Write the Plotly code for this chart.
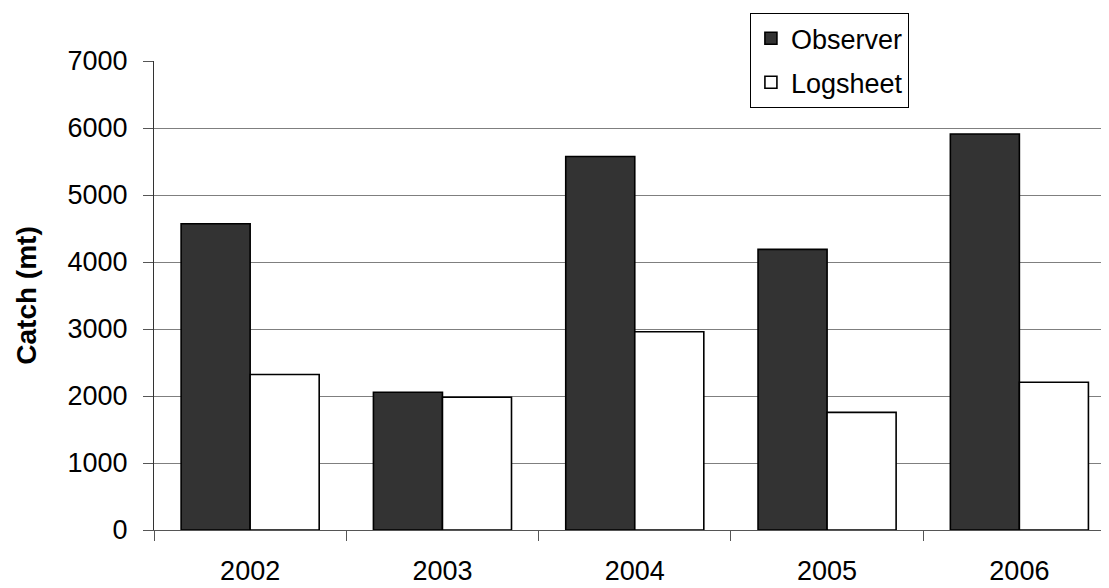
import plotly.graph_objects as go

years = ["2002", "2003", "2004", "2005", "2006"]
observer = [4570, 2057, 5575, 4188, 5910]
logsheet = [2320, 1982, 2960, 1755, 2205]
y_ticks = [0, 1000, 2000, 3000, 4000, 5000, 6000, 7000]

FONT = "Liberation Sans, Arial, sans-serif"

fig = go.Figure()
fig.add_trace(go.Bar(
    x=years, y=observer, name="Observer", legendgroup="a",
    marker=dict(color="#333333", line=dict(color="#000000", width=1.6)),
))
fig.add_trace(go.Bar(
    x=years, y=logsheet, name="Logsheet", legendgroup="b",
    marker=dict(color="#ffffff", line=dict(color="#000000", width=1.6)),
))

# page body has an 8px margin, so the figure is 8px smaller and offset
fig.update_layout(
    width=1101, height=580,
    margin=dict(l=146, r=0, t=53, b=58),
    paper_bgcolor="white", plot_bgcolor="white",
    barmode="group", bargap=0.282, bargroupgap=0,
    font=dict(family=FONT, size=27, color="#000000"),
    legend=dict(
        x=0.624, y=1.102, xanchor="left", yanchor="top",
        bgcolor="white", bordercolor="#000000", borderwidth=1,
        font=dict(family=FONT, size=27),
        traceorder="grouped", tracegroupgap=6,
    ),
    showlegend=True,
)
fig.update_xaxes(
    type="category", range=[-0.5, 4.466], automargin=False,
    showline=True, linecolor="#555555", linewidth=1,
    ticks="outside", tickson="boundaries", ticklen=10, tickcolor="#555555",
    showgrid=False, ticklabelstandoff=17,
    tickfont=dict(family=FONT, size=27),
)
fig.update_yaxes(
    range=[0, 7000], tickvals=y_ticks, automargin=False,
    showline=True, linecolor="#333333", linewidth=1,
    ticks="outside", ticklen=10, tickcolor="#555555",
    showgrid=True, gridcolor="#7f7f7f", gridwidth=1,
    zeroline=False, ticklabelstandoff=10,
    tickfont=dict(family=FONT, size=27),
    title=dict(text="<b>Catch (mt)</b>", font=dict(family=FONT, size=28), standoff=22),
)

fig.write_html("out.html")
